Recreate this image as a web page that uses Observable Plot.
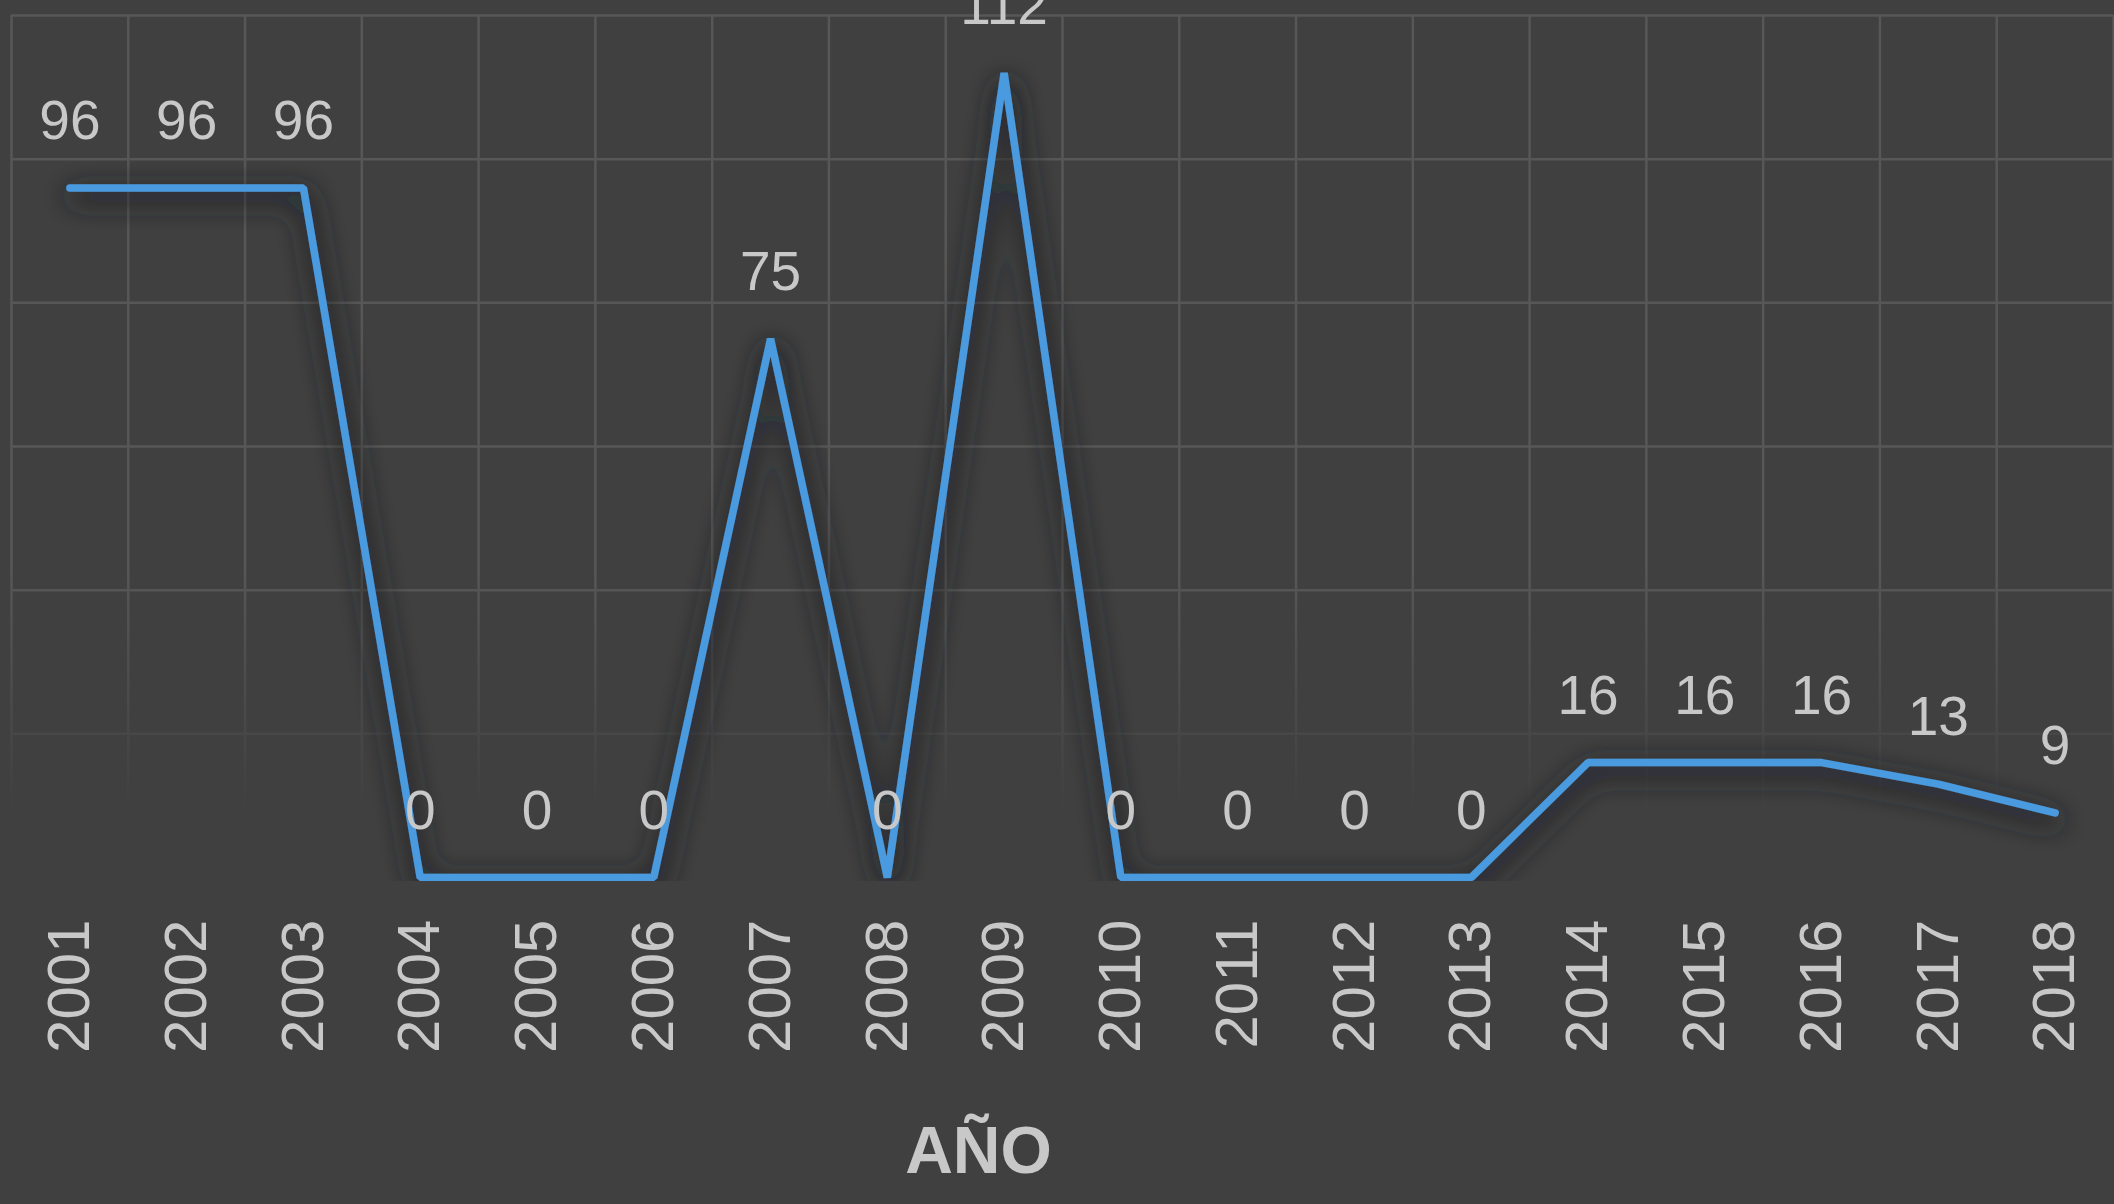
<!DOCTYPE html>
<html>
<head>
<meta charset="utf-8">
<script src="https://cdn.jsdelivr.net/npm/d3@7"></script>
<script src="https://cdn.jsdelivr.net/npm/@observablehq/plot@0.6"></script>
<style>
  html, body { margin: 0; padding: 0; background: #404040; }
  #chart svg { display: block; }
</style>
</head>
<body>
<div id="chart"></div>
<script>
const years = [2001, 2002, 2003, 2004, 2005, 2006, 2007, 2008, 2009, 2010, 2011, 2012, 2013, 2014, 2015, 2016, 2017, 2018];
const values = [96, 96, 96, 0, 0, 0, 75, 0, 112, 0, 0, 0, 0, 16, 16, 16, 13, 9];
const yTicks = [20, 40, 60, 80, 100, 120];
const xLabel = "AÑO";

const data = years.map((y, i) => ({year: y, value: values[i]}));
const bandEdges = [years[0] - 0.5, ...years.map(y => y + 0.5)];

const font = "'Liberation Sans', Arial, Helvetica, sans-serif";
const textColor = "#c8c8c8";
const gridColor = "#575757";

const svg = Plot.plot({
  width: 2114,
  height: 1204,
  marginLeft: 11,
  marginRight: 1,
  marginTop: 15,
  marginBottom: 327,
  style: {background: "#404040", color: textColor, fontFamily: font, overflow: "hidden"},
  x: {type: "linear", domain: [years[0] - 0.5, years[years.length - 1] + 0.5]},
  y: {domain: [0, 120], axis: null},
  marks: [
    Plot.ruleX(bandEdges, {stroke: gridColor, strokeWidth: 2.5}),
    Plot.ruleY(yTicks, {stroke: gridColor, strokeWidth: 2.5}),
    Plot.frame({fill: "url(#fade)", stroke: "none", inset: -3}),
    Plot.line(data, {x: "year", y: "value", stroke: "#4a9ade", strokeWidth: 7.5, strokeLinejoin: "miter", strokeLinecap: "round"}),
    Plot.text(data, {x: "year", y: "value", text: d => String(d.value), dy: -49, lineAnchor: "bottom", fontSize: 55, fill: textColor}),
    Plot.axisX({ticks: years, tickFormat: d => String(d), tickRotate: -90, tickSize: 0, tickPadding: 42, fontSize: 60, label: null}),
    Plot.text([xLabel], {frameAnchor: "bottom", dx: -84, dy: 295, lineAnchor: "bottom", fontSize: 66, fontWeight: "bold", fill: textColor})
  ]
});

const sel = d3.select(svg);
const defs = sel.insert("defs", ":first-child");
// gradient used by the fading overlay on the lower part of the grid
const grad = defs.append("linearGradient").attr("id", "fade").attr("x1", 0).attr("y1", 0).attr("x2", 0).attr("y2", 1);
grad.append("stop").attr("offset", "0.64").attr("stop-color", "#404040").attr("stop-opacity", 0);
grad.append("stop").attr("offset", "0.92").attr("stop-color", "#404040").attr("stop-opacity", 1);
grad.append("stop").attr("offset", "1").attr("stop-color", "#404040").attr("stop-opacity", 1);
// soft dark glow under the line
const filt = defs.append("filter").attr("id", "shadow")
  .attr("filterUnits", "userSpaceOnUse")
  .attr("x", 0).attr("y", 0).attr("width", 2114).attr("height", 880);
filt.append("feGaussianBlur").attr("in", "SourceAlpha").attr("stdDeviation", 14).attr("result", "blur");
filt.append("feOffset").attr("in", "blur").attr("dx", 2).attr("dy", 8).attr("result", "off");
filt.append("feFlood").attr("flood-color", "#2a2c30").attr("flood-opacity", 1);
filt.append("feComposite").attr("in2", "off").attr("operator", "in").attr("result", "shadow");
const merge = filt.append("feMerge");
merge.append("feMergeNode").attr("in", "shadow");
merge.append("feMergeNode").attr("in", "shadow");
merge.append("feMergeNode").attr("in", "SourceGraphic");

sel.selectAll('g[aria-label="line"]').attr("filter", "url(#shadow)");

document.getElementById("chart").appendChild(svg);
</script>
</body>
</html>
